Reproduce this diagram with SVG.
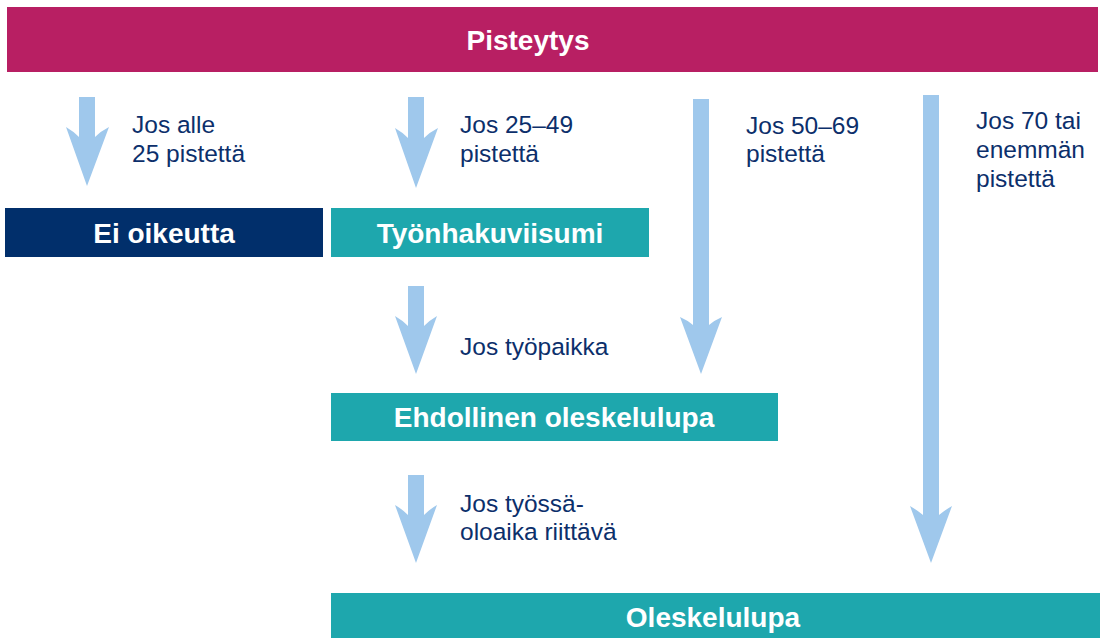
<svg xmlns="http://www.w3.org/2000/svg" width="1105" height="638" viewBox="0 0 1105 638">
<style>
.lbl{font-family:"Liberation Sans",Arial,sans-serif;font-size:24.5px;fill:#0c2f6b}
.bt{font-family:"Liberation Sans",Arial,sans-serif;font-size:28px;font-weight:bold;fill:#ffffff;text-anchor:middle}
.arr{fill:#9fc8ec}
</style>
<rect width="1105" height="638" fill="#ffffff"/>
<g id="connectors">
<path class="arr" d="M79,97 H95 V137 Q101,131 109,127 L87,186 L66,127 Q73,131 79,137 Z"/>
<path class="arr" d="M408,97 H424 V138 Q430,132 438,128 L416,188 L395,128 Q402,132 408,138 Z"/>
<path class="arr" d="M693,99 H709 V325 Q715,320 722,317 L701,374 L680,317 Q687,320 693,325 Z"/>
<path class="arr" d="M923,95 H939 V515 Q945,510 952,506 L931,563 L910,506 Q917,510 923,515 Z"/>
<path class="arr" d="M408,286 H424 V326 Q430,320 437,316 L416,374 L395,316 Q402,320 408,326 Z"/>
<path class="arr" d="M408,475 H424 V515 Q430,509 437,505 L416,563 L395,505 Q402,509 408,515 Z"/>
<text class="lbl" x="132" y="133">Jos alle</text>
<text class="lbl" x="132" y="162">25 pistettä</text>
<text class="lbl" x="460" y="133">Jos 25–49</text>
<text class="lbl" x="460" y="162">pistettä</text>
<text class="lbl" x="746" y="134">Jos 50–69</text>
<text class="lbl" x="746" y="162">pistettä</text>
<text class="lbl" x="976" y="129">Jos 70 tai</text>
<text class="lbl" x="976" y="158">enemmän</text>
<text class="lbl" x="976" y="187">pistettä</text>
<text class="lbl" x="460" y="355">Jos työpaikka</text>
<text class="lbl" x="460" y="512">Jos työssä-</text>
<text class="lbl" x="460" y="540">oloaika riittävä</text>
</g>
<g id="pisteytys">
<rect x="7" y="7" width="1091" height="65" fill="#b81f63"/>
<text class="bt" x="528" y="50">Pisteytys</text>
</g>
<g id="ei-oikeutta">
<rect x="5" y="208" width="318" height="49" fill="#012f6b"/>
<text class="bt" x="164" y="243">Ei oikeutta</text>
</g>
<g id="tyonhakuviisumi">
<rect x="331" y="208" width="318" height="49" fill="#1ea7ad"/>
<text class="bt" x="490" y="243">Työnhakuviisumi</text>
</g>
<g id="ehdollinen">
<rect x="331" y="393" width="447" height="48" fill="#1ea7ad"/>
<text class="bt" x="554" y="427">Ehdollinen oleskelulupa</text>
</g>
<g id="oleskelulupa">
<rect x="331" y="593" width="769" height="45" fill="#1ea7ad"/>
<text class="bt" x="713" y="627">Oleskelulupa</text>
</g>
</svg>
